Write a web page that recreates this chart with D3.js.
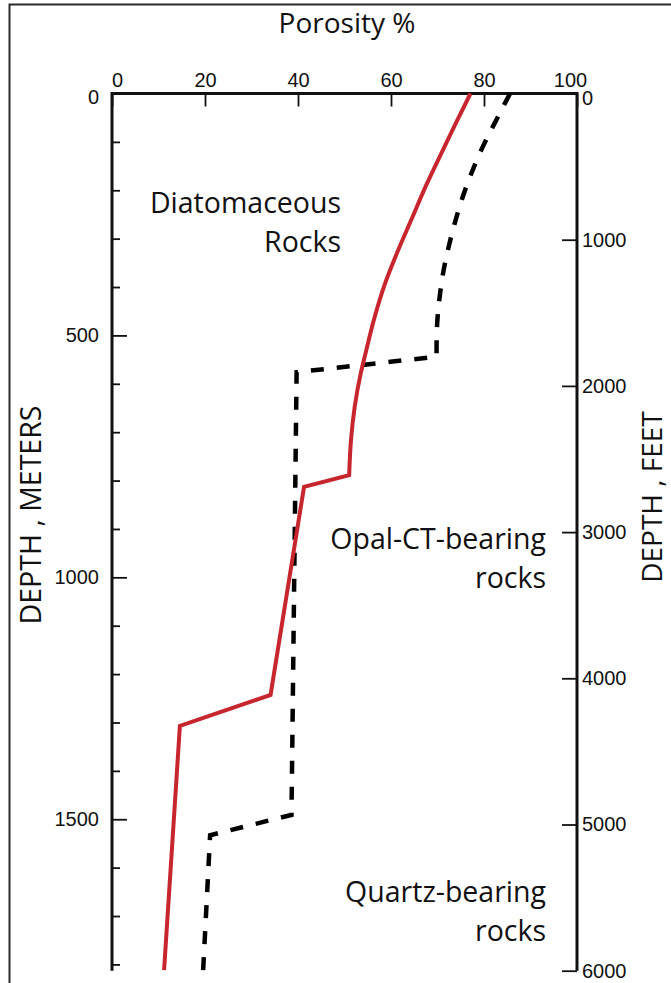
<!DOCTYPE html>
<html>
<head>
<meta charset="utf-8">
<script src="https://cdn.jsdelivr.net/npm/d3@7"></script>
<style>
  html, body { margin: 0; padding: 0; background: #fff; }
  svg { display: block; font-family: "Open Sans", "Noto Sans", sans-serif; }
</style>
</head>
<body>
<svg id="chart" width="671" height="983"></svg>
<script>
// Porosity (%) against burial depth (m) for siliceous rocks.
// Solid red profile: smooth decline through the diatomaceous section, then step changes
const redDepthM    = [0, 60, 120, 189, 258, 327, 396, 465, 534, 578, 647, 716, 789, 813, 1243, 1307, 1812];
const redPorosity  = [77.1, 74.0, 71.0, 67.6, 64.5, 61.4, 58.6, 56.4, 54.6, 53.5, 52.2, 51.4, 51.0, 41.3, 34.1, 14.6, 11.2];
const redSmoothEnd = 12;   // last index of the smooth upper part
// Dashed black profile
const dashDepthM   = [0, 50, 113, 182, 258, 313, 361, 410, 465, 520, 544, 576, 1491, 1533, 1812];
const dashPorosity = [85.6, 82.9, 79.6, 76.6, 74.0, 72.5, 71.4, 70.6, 70.0, 69.8, 69.8, 39.7, 38.6, 21.1, 19.6];
const dashSmoothEnd = 10;

// Axis ticks
const porosityTicks   = [0, 20, 40, 60, 80, 100];
const meterMajorTicks = [0, 500, 1000, 1500];
const meterMinorTicks = [100, 200, 300, 400, 600, 700, 800, 900, 1100, 1200, 1300, 1400, 1600, 1700, 1800];
const feetTicks       = [0, 1000, 2000, 3000, 4000, 5000, 6000];

// Zone labels (two lines each)
const zoneLabels = [
  ["Diatomaceous", "Rocks"],
  ["Opal-CT-bearing", "rocks"],
  ["Quartz-bearing", "rocks"]
];

const svg = d3.select("#chart");
const plotLeft = 112, plotRight = 577, plotTop = 93.5;
const tickFont = 20, labelFont = 28.5;

const x  = d3.scaleLinear().domain([0, 100]).range([plotLeft, plotRight]);
const yM = d3.scaleLinear().domain([0, 1800]).range([plotTop, 964.4]);
const yF = d3.scaleLinear().domain([0, 6000]).range([plotTop, 970.7]);
const plotBottom = yF(6000);
const plain = d3.format("d");

// outer frame
svg.append("rect")
  .attr("x", 9.5).attr("y", 4.5).attr("width", 720).attr("height", 1000)
  .attr("fill", "none").attr("stroke", "#2a2a2a").attr("stroke-width", 2);

// title
svg.append("text")
  .attr("x", 347).attr("y", 33)
  .attr("text-anchor", "middle")
  .attr("font-size", 28)
  .attr("fill", "#111")
  .text("Porosity %");

// top axis (porosity)
const gTop = svg.append("g").attr("transform", `translate(0,${plotTop})`)
  .call(d3.axisTop(x).tickValues(porosityTicks).tickFormat(plain).tickSize(-13).tickPadding(6.5));
gTop.select(".domain").remove();
gTop.selectAll(".tick line").attr("stroke", "#111").attr("stroke-width", 1.8);
gTop.selectAll(".tick text")
  .attr("font-size", tickFont).attr("fill", "#111").attr("font-family", null)
  .attr("dx", d => d === 0 ? 5 : (d === 100 ? -7 : 0));

// left axis (meters): minor ticks
const gLeftMinor = svg.append("g").attr("transform", `translate(${plotLeft},0)`)
  .call(d3.axisLeft(yM).tickValues(meterMinorTicks).tickSize(-8).tickFormat(""));
gLeftMinor.select(".domain").remove();
gLeftMinor.selectAll(".tick line").attr("stroke", "#111").attr("stroke-width", 1.8);

// left axis (meters): major ticks with labels
const gLeft = svg.append("g").attr("transform", `translate(${plotLeft},0)`)
  .call(d3.axisLeft(yM).tickValues(meterMajorTicks).tickFormat(plain).tickSize(-15).tickPadding(13));
gLeft.select(".domain").remove();
gLeft.selectAll(".tick line").attr("stroke", "#111").attr("stroke-width", 1.8);
gLeft.selectAll(".tick text").attr("font-size", tickFont).attr("fill", "#111").attr("font-family", null)
  .attr("y", d => d === 0 ? 4 : 0);

// right axis (feet)
const gRight = svg.append("g").attr("transform", `translate(${plotRight},0)`)
  .call(d3.axisRight(yF).tickValues(feetTicks).tickFormat(plain).tickSize(-15).tickPadding(5));
gRight.select(".domain").remove();
gRight.selectAll(".tick line").attr("stroke", "#111").attr("stroke-width", 1.8);
gRight.selectAll(".tick text").attr("font-size", tickFont).attr("fill", "#111").attr("font-family", null)
  .attr("y", d => d === 0 ? 5 : 0);

// axis frame: top, left and right lines
const frame = d3.path();
frame.moveTo(plotLeft, plotBottom);
frame.lineTo(plotLeft, plotTop);
frame.lineTo(plotRight, plotTop);
frame.lineTo(plotRight, plotBottom);
svg.append("path").attr("d", frame.toString())
  .attr("fill", "none").attr("stroke", "#111").attr("stroke-width", 3)
  .attr("stroke-linejoin", "miter");

// axis titles
svg.append("text")
  .attr("transform", "translate(41,515) rotate(-90)")
  .attr("text-anchor", "middle").attr("font-size", 28.5).attr("fill", "#111")
  .text("DEPTH , METERS");
svg.append("text")
  .attr("transform", "translate(662,497) rotate(-90)")
  .attr("text-anchor", "middle").attr("font-size", 28).attr("fill", "#111")
  .text("DEPTH , FEET");

// profiles: smooth upper part drawn as a curve, the stepped part as straight segments
const smooth = d3.line().x(d => x(d.p)).y(d => yM(d.m)).curve(d3.curveMonotoneY);
const straight = d3.line().x(d => x(d.p)).y(d => yM(d.m));
const redData  = redDepthM.map((m, i) => ({ m, p: redPorosity[i] }));
const dashData = dashDepthM.map((m, i) => ({ m, p: dashPorosity[i] }));

function profilePath(data, split) {
  const a = smooth(data.slice(0, split + 1));
  const b = straight(data.slice(split));
  return a + "L" + b.slice(1);   // continue the same path so dashes and joins carry on
}

svg.append("path").attr("d", profilePath(dashData, dashSmoothEnd))
  .attr("fill", "none").attr("stroke", "#000").attr("stroke-width", 4.5)
  .attr("stroke-dasharray", "13,13").attr("stroke-linejoin", "miter");

svg.append("path").attr("d", profilePath(redData, redSmoothEnd))
  .attr("fill", "none").attr("stroke", "#c8262f").attr("stroke-width", 4)
  .attr("stroke-linejoin", "miter");

// zone labels
const zoneRight = [341, 546, 546];
const zoneBase  = [213, 549, 902];
zoneLabels.forEach((lines, i) => {
  const t = svg.append("text")
    .attr("text-anchor", "end").attr("font-size", labelFont).attr("fill", "#111");
  lines.forEach((s, j) => {
    t.append("tspan").attr("x", zoneRight[i]).attr("y", zoneBase[i] + j * 38.5).text(s);
  });
});
</script>
</body>
</html>
